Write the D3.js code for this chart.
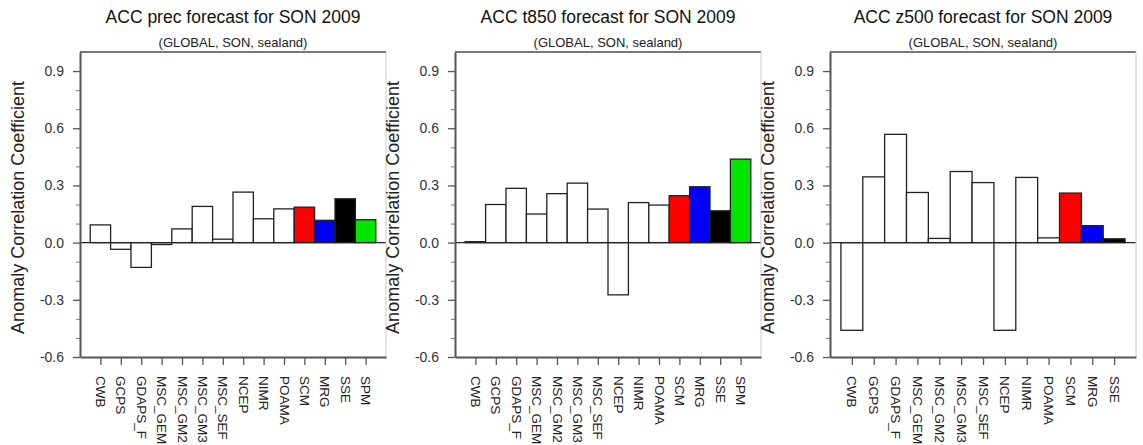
<!DOCTYPE html>
<html>
<head>
<meta charset="utf-8">
<script src="https://cdn.jsdelivr.net/npm/d3@7"></script>
<style>
  body { margin: 0; background: white; }
  text { font-family: "Liberation Sans", Arial, sans-serif; }
</style>
</head>
<body>
<div id="chart"></div>
<script>

// ---- data ----
const models = ["CWB", "GCPS", "GDAPS_F", "MSC_GEM", "MSC_GM2", "MSC_GM3", "MSC_SEF",
                "NCEP", "NIMR", "POAMA", "SCM", "MRG", "SSE", "SPM"]

const precValues = [0.093, -0.035, -0.13, -0.01, 0.072, 0.19, 0.018, 0.265, 0.125, 0.177, 0.186, 0.117, 0.23, 0.12]
const t850Values = [0.005, 0.2, 0.285, 0.15, 0.257, 0.312, 0.176, -0.274, 0.21, 0.197, 0.246, 0.293, 0.167, 0.438]
const z500Values = [-0.46, 0.345, 0.568, 0.263, 0.022, 0.373, 0.315, -0.46, 0.342, 0.025, 0.26, 0.089, 0.02]

const yTicks = [-0.6, -0.3, 0.0, 0.3, 0.6, 0.9]
const yMinorTicks = [-0.5, -0.4, -0.2, -0.1, 0.1, 0.2, 0.4, 0.5, 0.7, 0.8]

const panelTitles = ["ACC prec forecast for SON 2009", "ACC t850 forecast for SON 2009", "ACC z500 forecast for SON 2009"]
const subTitle = "(GLOBAL, SON, sealand)"
const yLabel = "Anomaly Correlation Coefficient"

const barColor = {SCM: "#ff0000", MRG: "#0000ff", SSE: "#000000", SPM: "#00e600"}

const panels = [
    {title: panelTitles[0], values: precValues, left: 80},
    {title: panelTitles[1], values: t850Values, left: 455},
    {title: panelTitles[2], values: z500Values, left: 830}
]

const W = 1143, H = 445
const plotTop = 52, plotBottom = 357, pw = 306

const svg = d3.select("#chart")
    .append("svg")
    .attr("width", W)
    .attr("height", H)

const y = d3.scaleLinear()
    .domain([-0.6, 1.0])
    .range([plotBottom, plotTop])

panels.forEach(function(p) {
    const n = p.values.length
    const names = models.slice(0, n)
    const x = d3.scaleLinear()
        .domain([0, n + 1])
        .range([0, pw])

    const g = svg.append("g")
        .attr("transform", `translate(${p.left}, 0)`)

    // titles
    g.append("text")
        .attr("x", pw / 2)
        .attr("y", 23)
        .text(p.title)
        .attr("font-size", "17.5px")
        .attr("fill", "#111")
        .style("text-anchor", "middle")

    g.append("text")
        .attr("x", pw / 2)
        .attr("y", 47)
        .text(subTitle)
        .attr("font-size", "13px")
        .attr("fill", "#222")
        .style("text-anchor", "middle")

    // y label
    g.append("text")
        .attr("transform", `translate(-56, ${(plotTop + plotBottom) / 2 + 3}) rotate(-90)`)
        .text(yLabel)
        .attr("font-size", "18px")
        .attr("fill", "#222")
        .style("text-anchor", "middle")

    // bars
    g.selectAll("rect.bar")
        .data(p.values)
        .join("rect")
        .attr("class", "bar")
        .attr("x", (d, i) => x(i + 0.5))
        .attr("width", x(1) - x(0))
        .attr("y", d => y(Math.max(d, 0)))
        .attr("height", d => Math.abs(y(d) - y(0)))
        .attr("fill", (d, i) => barColor[names[i]] || "white")
        .attr("stroke", "#222")
        .attr("stroke-width", 1.3)

    // zero line
    g.append("line")
        .attr("x1", 0).attr("x2", pw)
        .attr("y1", y(0)).attr("y2", y(0))
        .attr("stroke", "#222")
        .attr("stroke-width", 1.3)

    // frame: top, right
    g.append("line")
        .attr("x1", 0).attr("x2", pw)
        .attr("y1", plotTop).attr("y2", plotTop)
        .attr("stroke", "#777").attr("stroke-width", 2)
    g.append("line")
        .attr("x1", pw).attr("x2", pw)
        .attr("y1", plotTop).attr("y2", plotBottom)
        .attr("stroke", "#ccc").attr("stroke-width", 1)

    // y axis
    const yAxis = g.append("g")
        .call(d3.axisLeft(y).tickValues(yTicks).tickSize(7).tickPadding(9).tickSizeOuter(0))
    yAxis.select(".domain").attr("stroke", "#555").attr("stroke-width", 2)
    yAxis.selectAll(".tick line").attr("stroke", "#555").attr("stroke-width", 1.3)
    yAxis.selectAll(".tick text")
        .attr("font-size", "14px")
        .attr("fill", "#333")
        .text(d => d3.format(".1f")(d).replace("−", "-"))

    const yMinor = g.append("g")
        .call(d3.axisLeft(y).tickValues(yMinorTicks).tickFormat("").tickSize(4))
    yMinor.select(".domain").remove()
    yMinor.selectAll(".tick line").attr("stroke", "#777")

    // x axis
    const xAxis = g.append("g")
        .attr("transform", `translate(0, ${plotBottom})`)
        .call(d3.axisBottom(x).tickValues(d3.range(1, n + 1)).tickFormat(d => names[d - 1]).tickSize(8).tickSizeOuter(0))
    xAxis.select(".domain").attr("stroke", "#555").attr("stroke-width", 2)
    xAxis.selectAll(".tick line").attr("stroke", "#555").attr("stroke-width", 1.3)
    xAxis.selectAll(".tick text")
        .attr("font-size", "13.5px")
        .attr("fill", "#222")
        .attr("y", 0)
        .attr("dy", 0)
        .attr("transform", "translate(-5, 19) rotate(90)")
        .style("text-anchor", "start")
})

</script>
</body>
</html>
